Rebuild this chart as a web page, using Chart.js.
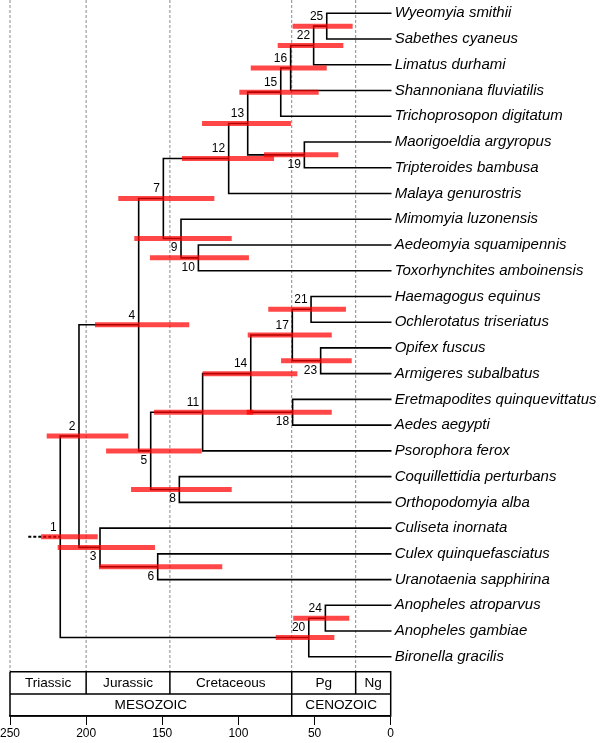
<!DOCTYPE html>
<html><head><meta charset="utf-8">
<script src="https://cdn.jsdelivr.net/npm/chart.js@4.4.0/dist/chart.umd.min.js"></script>
<style>html,body{margin:0;padding:0;background:#fff}canvas{display:block}</style>
</head><body>
<canvas id="c" width="600" height="743"></canvas>
<script>
// ---------- DATA ----------
const tipNames = [
  'Wyeomyia smithii','Sabethes cyaneus','Limatus durhami','Shannoniana fluviatilis',
  'Trichoprosopon digitatum','Maorigoeldia argyropus','Tripteroides bambusa','Malaya genurostris',
  'Mimomyia luzonensis','Aedeomyia squamipennis','Toxorhynchites amboinensis','Haemagogus equinus',
  'Ochlerotatus triseriatus','Opifex fuscus','Armigeres subalbatus','Eretmapodites quinquevittatus',
  'Aedes aegypti','Psorophora ferox','Coquillettidia perturbans','Orthopodomyia alba',
  'Culiseta inornata','Culex quinquefasciatus','Uranotaenia sapphirina','Anopheles atroparvus',
  'Anopheles gambiae','Bironella gracilis'
];
const tipAge = new Array(26).fill(0);
const tipParent = [25,25,22,16,15,19,19,12,9,10,10,21,21,23,23,18,18,11,8,8,3,6,6,24,24,20];
const nodeIds    = [1,2,3,4,5,6,7,8,9,10,11,12,13,14,15,16,17,18,19,20,21,22,23,24,25];
const nodeParent = [null,1,2,2,4,3,4,5,7,9,5,7,12,11,13,15,14,14,13,1,17,16,17,20,22];
const nodeAge    = [217.0,204.7,190.9,165.5,157.6,153.0,149.3,138.8,137.7,126.3,123.5,106.4,93.9,91.9,72.2,65.7,64.6,64.4,56.7,53.8,52.3,50.6,46.0,42.9,42.0];
const hpdOld     = [229.6,225.9,218.7,194.2,186.9,191.6,178.9,170.5,168.4,158.1,155.4,137.1,123.9,123.5,99.4,91.9,93.9,94.6,83.2,75.5,80.4,74.2,72.0,64.0,64.4];
const hpdYoung   = [192.4,172.3,154.8,132.3,124.1,110.6,115.8,104.4,104.4,93.1,90.2,76.6,65.5,61.3,47.3,42.0,38.7,38.7,34.4,37.0,29.4,31.1,25.6,27.2,25.0];
const rootStemAge = 238;
const periodNames = ['Triassic','Jurassic','Cretaceous','Pg','Ng'];
const periodStart = [250,200,145,65,23];
const periodEnd   = [200,145,65,23,0];
const eraNames = ['MESOZOIC','CENOZOIC'];
const eraStart = [250,65];
const eraEnd   = [65,0];
const xTickValues = [250,200,150,100,50,0];

// ---------- STYLE / LAYOUT CONSTANTS ----------
const belowLabels = new Set([19,10,9,23,18,5,8,3,6]);
const Y_MIN = -0.5167, Y_MAX = 27.30, BOX_TOP = 25.579, BOX_MID = 26.445;
const FONT = "'Liberation Sans', Arial, sans-serif";
Chart.defaults.font.family = FONT;
Chart.defaults.color = '#000';

// ---------- build tree layout from data ----------
const children = {};
nodeIds.forEach(id => children[id] = []);
tipParent.forEach((p, i) => children[p].push({age: tipAge[i], y: i, kind: 't', i}));
nodeParent.forEach((p, k) => { if (p !== null) children[p].push({age: nodeAge[k], kind: 'n', id: nodeIds[k]}); });
const nodeY = {};
function getY(c) { return c.kind === 't' ? c.y : computeY(c.id); }
function computeY(id) {
  if (nodeY[id] !== undefined) return nodeY[id];
  const ys = children[id].map(getY);
  nodeY[id] = (Math.min(...ys) + Math.max(...ys)) / 2;
  return nodeY[id];
}
nodeIds.forEach(computeY);

const treePts = [];
nodeIds.forEach((id, k) => {
  const ch = children[id].map(c => ({age: c.age, y: getY(c)})).sort((a, b) => a.y - b.y);
  const a = ch[0], b = ch[ch.length - 1];
  treePts.push({x: a.age, y: a.y}, {x: nodeAge[k], y: a.y}, {x: nodeAge[k], y: b.y}, {x: b.age, y: b.y}, {x: null, y: null});
});

const datasets = [];
// HPD bars (on top)
nodeIds.forEach((id, k) => {
  datasets.push({
    type: 'line', data: [{x: hpdOld[k], y: nodeY[id]}, {x: hpdYoung[k], y: nodeY[id]}],
    borderColor: 'rgba(255,0,0,0.72)', borderWidth: 5, borderCapStyle: 'butt',
    pointRadius: 0, order: 0, clip: false
  });
});
// tree
datasets.push({type: 'line', data: treePts, borderColor: '#000', borderWidth: 1.6, pointRadius: 0,
  spanGaps: false, order: 1, clip: false, borderJoinStyle: 'miter', borderCapStyle: 'square'});
// root stem
datasets.push({type: 'line', data: [{x: rootStemAge, y: nodeY[1]}, {x: nodeAge[0], y: nodeY[1]}],
  borderColor: '#000', borderWidth: 2, borderDash: [3, 2], pointRadius: 0, order: 1, clip: false});
// period boundaries (dashed)
const gridPts = [];
periodStart.forEach(v => gridPts.push({x: v, y: Y_MIN}, {x: v, y: BOX_TOP}, {x: null, y: null}));
datasets.push({type: 'line', data: gridPts, borderColor: '#8a8a8a', borderWidth: 1, borderDash: [3, 2],
  pointRadius: 0, spanGaps: false, order: 3, clip: false});
// time scale box
const boxPts = [
  {x: 250, y: BOX_TOP}, {x: 0, y: BOX_TOP}, {x: 0, y: Y_MAX}, {x: 250, y: Y_MAX}, {x: 250, y: BOX_TOP}, {x: null, y: null},
  {x: 250, y: BOX_MID}, {x: 0, y: BOX_MID}, {x: null, y: null}
];
periodStart.slice(1).forEach(v => boxPts.push({x: v, y: BOX_TOP}, {x: v, y: BOX_MID}, {x: null, y: null}));
eraStart.slice(1).forEach(v => boxPts.push({x: v, y: BOX_MID}, {x: v, y: Y_MAX}, {x: null, y: null}));
datasets.push({type: 'line', data: boxPts, borderColor: '#000', borderWidth: 1.5, pointRadius: 0,
  spanGaps: false, order: 2, clip: false});

const textPlugin = {
  id: 'treeTexts',
  afterDatasetsDraw(chart) {
    const {ctx, scales: {x, y}} = chart;
    ctx.save();
    ctx.fillStyle = '#000';
    ctx.textBaseline = 'middle';
    ctx.textAlign = 'right';
    ctx.font = '12px ' + FONT;
    nodeIds.forEach((id, k) => {
      const px = x.getPixelForValue(nodeAge[k]) - 3.5;
      const py = y.getPixelForValue(nodeY[id]) + (belowLabels.has(id) ? 9.5 : -9.5);
      ctx.fillText(String(id), px, py);
    });
    ctx.textAlign = 'center';
    ctx.font = '13.6px ' + FONT;
    const r1 = y.getPixelForValue((BOX_TOP + BOX_MID) / 2) + 0.5;
    const r2 = y.getPixelForValue((BOX_MID + Y_MAX) / 2) + 0.5;
    periodNames.forEach((nm, k) => ctx.fillText(nm, x.getPixelForValue((periodStart[k] + periodEnd[k]) / 2), r1));
    eraNames.forEach((nm, k) => ctx.fillText(nm, x.getPixelForValue((eraStart[k] + eraEnd[k]) / 2), r2));
    ctx.restore();
  }
};

new Chart(document.getElementById('c'), {
  type: 'scatter',
  data: {datasets},
  options: {
    responsive: false, animation: false,
    layout: {padding: {left: 10, right: 0, top: 0, bottom: 0}},
    plugins: {legend: {display: false}, tooltip: {enabled: false}},
    scales: {
      x: {
        type: 'linear', min: 0, max: 250, reverse: true,
        afterBuildTicks: s => { s.ticks = xTickValues.map(v => ({value: v})); },
        ticks: {font: {size: 12}, color: '#000', padding: 1, maxRotation: 0, autoSkip: false},
        grid: {drawOnChartArea: false, drawTicks: true, tickLength: 9, color: '#000', lineWidth: 1},
        border: {display: true, color: '#000', width: 1.5},
        afterFit: s => { s.height = 27; s.paddingLeft = 0; s.paddingRight = 0; }
      },
      y: {
        type: 'linear', position: 'right', min: Y_MIN, max: Y_MAX, reverse: true,
        afterBuildTicks: s => { s.ticks = tipNames.map((_, i) => ({value: i})); },
        ticks: {autoSkip: false, padding: 4, color: '#000',
          font: {size: 15, style: 'italic'},
          callback: v => tipNames[v]},
        grid: {display: false, drawTicks: false},
        border: {display: false},
        afterFit: s => { s.width = 209.3; s.paddingTop = 0; s.paddingBottom = 0; }
      }
    }
  },
  plugins: [textPlugin]
});
</script>
</body></html>
